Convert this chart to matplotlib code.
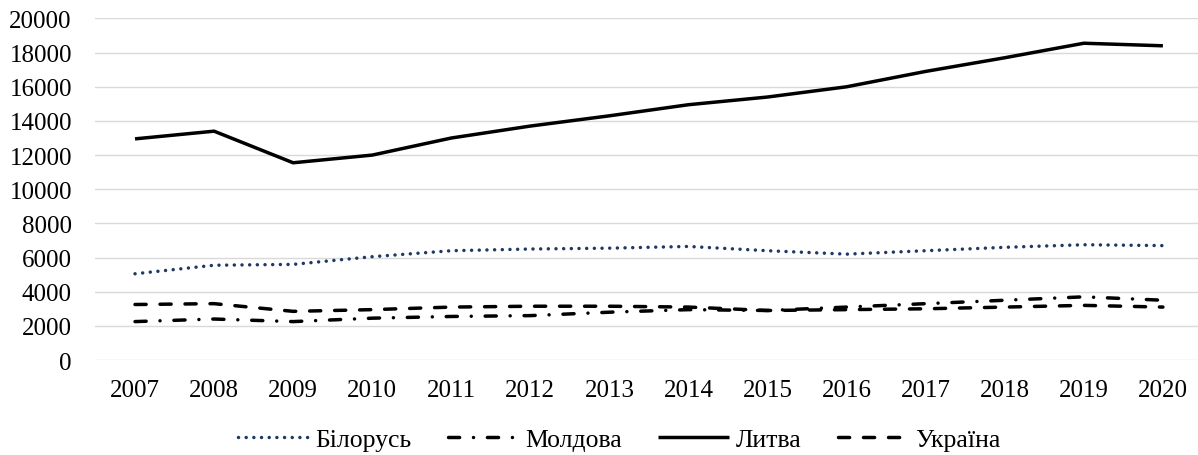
import matplotlib
matplotlib.use('Agg')
import matplotlib.pyplot as plt

years = ['2007', '2008', '2009', '2010', '2011', '2012', '2013',
         '2014', '2015', '2016', '2017', '2018', '2019', '2020']

belarus = [5050, 5550, 5600, 6050, 6400, 6500, 6550, 6650, 6400, 6200, 6400, 6600, 6750, 6700]
moldova = [2250, 2400, 2250, 2450, 2550, 2600, 2800, 2950, 2900, 3100, 3300, 3500, 3700, 3500]
lithuania = [12950, 13400, 11550, 12000, 13000, 13700, 14300, 14950, 15400, 16000, 16900, 17700, 18550, 18400]
ukraine = [3250, 3300, 2850, 2950, 3100, 3150, 3150, 3100, 2900, 2950, 3000, 3100, 3200, 3100]

labels = ['Білорусь', 'Молдова', 'Литва', 'Україна']

plt.rcParams['font.family'] = ['Liberation Serif', 'DejaVu Serif']

fig = plt.figure(figsize=(11.98, 4.56), dpi=100)
ax = fig.add_axes([0.0797, 0.2083, 0.924, 0.749])

x = list(range(len(years)))
lw = 2.5

# Білорусь - dotted navy
l1, = ax.plot(x, belarus, color='#1F3864', linewidth=lw, label=labels[0],
              dash_capstyle='round', solid_capstyle='round')
l1.set_dashes((0.01, 2.2))

# Молдова - dash-dot
l2, = ax.plot(x, moldova, color='black', linewidth=lw, label=labels[1],
              dash_capstyle='round')
l2.set_dashes((3.2, 4.0, 0.01, 4.0))

# Литва - solid
ax.plot(x, lithuania, color='black', linewidth=lw, label=labels[2],
        solid_capstyle='butt')

# Україна - dashed
l4, = ax.plot(x, ukraine, color='black', linewidth=lw, label=labels[3],
              dash_capstyle='round')
l4.set_dashes((3.2, 4.0))

ax.set_xlim(-0.5, len(years) - 0.5)
ax.set_ylim(0, 20000)
ax.set_yticks(range(0, 20001, 2000))
ax.set_xticks(x)
ax.set_xticklabels(years)

ax.grid(True, axis='y', color='#D9D9D9', linewidth=1.0)
ax.set_axisbelow(True)
for s in ax.spines.values():
    s.set_visible(False)
ax.tick_params(axis='both', length=0, labelsize=18)
ax.tick_params(axis='y', pad=17)
ax.tick_params(axis='x', pad=14)

fig.legend(loc='center', bbox_to_anchor=(0.517, 0.035), ncol=4, frameon=False,
           fontsize=18.5, handlelength=2.75, handletextpad=0.28, columnspacing=1.4)

fig.savefig('out.png', dpi=100)
plt.close(fig)
